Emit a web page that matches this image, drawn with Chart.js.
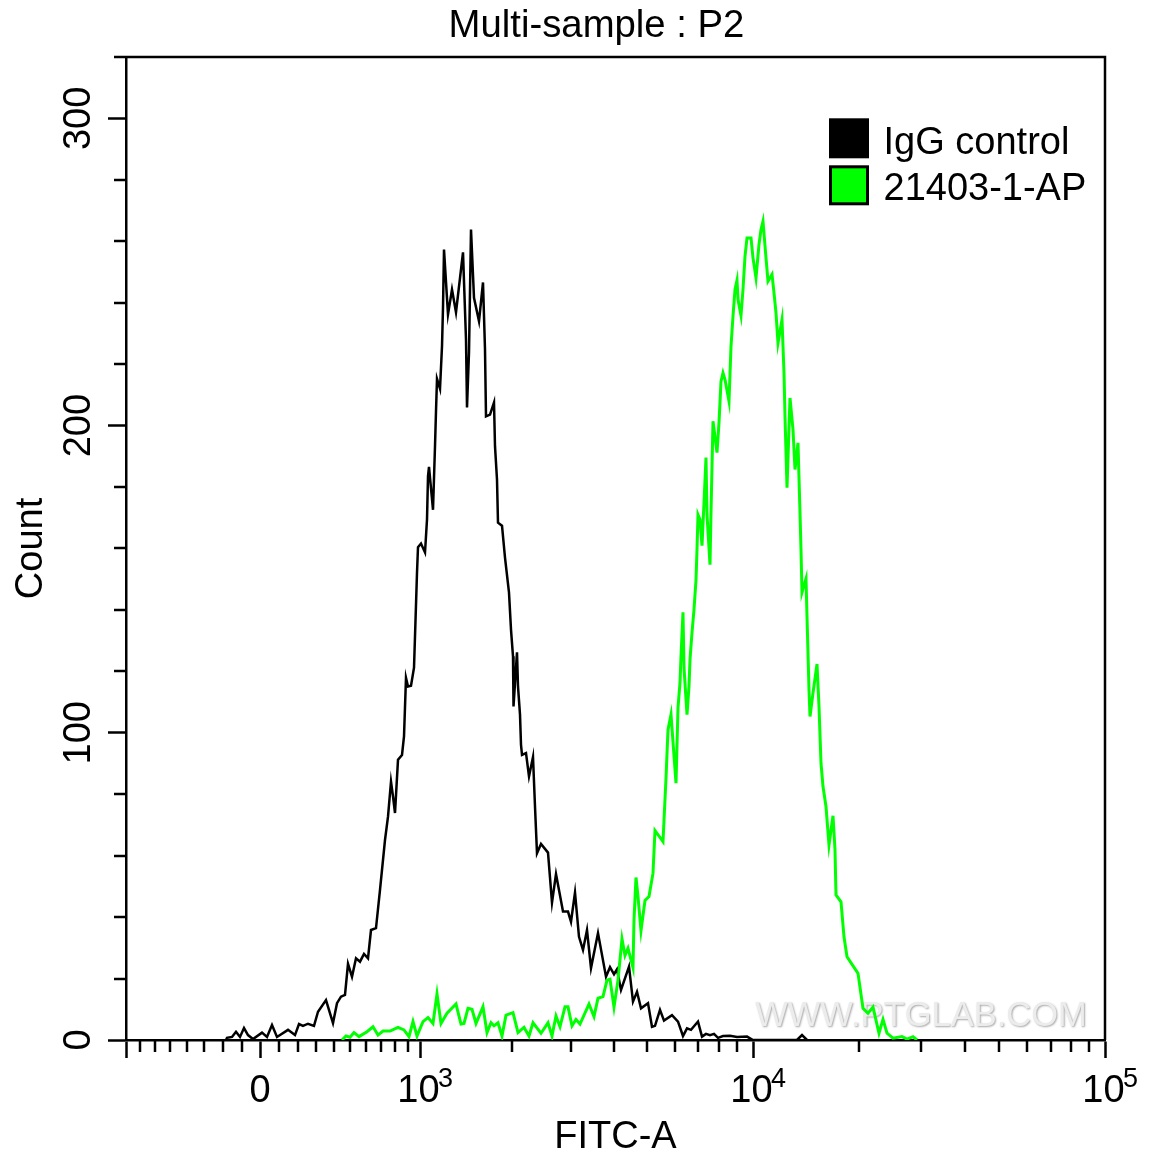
<!DOCTYPE html>
<html>
<head>
<meta charset="utf-8">
<style>html,body{margin:0;padding:0;background:#fff}canvas{display:block}</style>
<script src="https://cdn.jsdelivr.net/npm/chart.js@4/dist/chart.umd.min.js"></script>
</head>
<body>
<canvas id="c" width="1153" height="1156" style="width:1153px;height:1156px"></canvas>
<script>
const FONT = '"Liberation Sans", Arial, sans-serif';
const chartTitle = 'Multi-sample : P2';
const xTitle = 'FITC-A';
const yTitle = 'Count';
const watermark = 'WWW.PTGLAB.COM';

const xMajorTicks = [0, 134, 294, 627, 979];
const xTickLabels = ['', '0', '10\u200A', '10\u200A', '10\u200A'];
const xTickExponents = ['', '', '3', '4', '5'];
const xMinorTicks = [14,29,44,61,78,97,116,153,172,190,208,224,240,255,269,282,386,445,488,521,549,572,593,611,733,795,839,873,901,925,945,963];
const yMajorTicks = [0, 100, 200, 300];
const yMinorTicks = [20,40,60,80,120,140,160,180,220,240,260,280,320];

const iggLabel = 'IgG control';
const iggChannel = [100,101,106,110,114,118,122,127,136,141,146,151,162,169,173,177,182,188,192,200,207,211,215,219,222,226,230,234,238,242,245,250,254,259,262,265,267,269,272,276,278,280,282,285,288,289,290,291,292,295,299,301,302,303,307,309,310,311,314,316,317,318,322,326,330,337,340,341,343,345,348,353,357,359,360,364,368,369,371,372,376,379,383,385,387,387.5,391,392,394,395,396,400,403,407,409,411,415,422,426,430,437,442,445,449,453,457,461,465,472,480,484,488,491,495,503,507,511,515,522,526,529,534,538,546,552,557,561,565,572,576,580,584,588,592,597,604,611,621,627,671,676,681];
const iggCount = [0,0.7,1,2.7,1,3.9,1.6,0.3,2.4,1,4.9,1,3.3,1.6,5.2,4.6,5.3,4.6,9.2,13,5.5,12,14.1,14.7,24.8,20.6,26.6,25.5,28,26.6,35.8,36.4,48.9,65.1,72.7,84.1,79.3,73.9,91.2,92.8,98.8,117.9,115.1,115.3,121.2,131.4,141.7,152.1,160.4,161.6,158.7,169.4,183.5,186.6,172.6,193.3,204.7,215.2,212,225.8,238.4,257.3,236.2,244.3,236.9,256.4,228,205.9,223.8,263.8,241.6,234,246.6,224.8,203,203.6,207.5,193.3,182.4,168.4,167.4,157,145.6,133.6,124.9,108.6,126.2,115.1,105.9,96.1,92.8,93.4,85.8,92.1,76,60.8,63.8,61,44.7,54,41.8,41.8,38.5,48,33.6,29.3,35.8,23.4,34.8,20.6,23.7,21.4,23,16.3,23.9,12.5,15.7,10.3,12,4.3,4.6,9.8,6.3,8.1,6,1.3,3.8,3.3,6,1.1,2,1.6,2,0.7,1.3,1.4,1,1.1,0,0,1.6,0];

const abLabel = '21403-1-AP';
const abChannel = [216,220,224,228,233,241,247,252,257,264,272,278,283,287,291,297,302,307,311,315,321,330,335,338,342,346,350,357,361,365,368,372,376,380,387,392,398,403,407,415,422,426,430,434,439,442,446,450,454,463,468,472,477,481,484,488,492,496,499,502,507,508,510,512,515,519,523,527,529,537,540,542,545,550,552,554,555,557,558,561,563,564,566,568,570,571,572,574,576,578,580,581,584,585,587,591,593,595,597,599,603,605,607,609,611,612,615,617,619,621,625,627,630,633,635,637,640,642,646,648,650,652,656,658,659,661,664,667,669,672,674,675,676,680,681,682,683,684,687,691,693,695,697,700,703,707,709,710,715,718,721,732,737,742,747,753,757,761,767,776,781,787,791];
const abCount = [0,1.3,0.9,2.4,1.1,2.7,4.3,1.6,2.9,2.9,4.1,3.3,1.1,6,1.3,6,7.3,5.4,15,5.4,8.7,11.7,5.2,5.4,10.3,10,5.4,10.8,2.4,5.6,4.6,5.6,1.3,8.1,8.9,2.4,4.1,1.3,5.6,2.2,5.6,1.3,7.8,4.3,10.8,10.8,4.6,6.7,5.2,11.7,7.6,13.6,14.1,19.5,19.8,10.7,19.5,32.9,27.5,29.9,23.6,39.1,52.9,46.7,35.6,45.4,46.7,54.3,68.2,64.6,85.2,101,105.9,83.6,108.1,116.3,124.9,139.2,121.2,105.9,115.1,123.8,132.6,140.1,149.8,159.6,171,169.4,160.9,174.9,189.6,171,154.7,171.6,201.4,191.2,201,214.4,217.2,215,207.9,225.8,235.6,244.3,247.3,241,235.8,244.3,255.1,261.1,261.1,254.6,248.1,259,263.8,266.5,254.6,247,249.2,243.2,236.7,226.9,234.5,217.2,203,179.8,209,198.7,185.7,194.4,171.6,159.6,145.7,150.2,137.9,126,114,105.3,112.9,122.4,108.6,90.1,82.5,76,63.5,73,61.9,47.2,45,33.6,27.1,21.7,10.3,8.7,10.7,2.2,6.7,2.2,0.6,1.1,0.3,1.1,0];

const toPoints = (xs, ys) => xs.map((x, i) => ({x, y: ys[i]}));
const RULE = 2.5;

const furniture = {
  id: 'furniture',
  afterLayout(chart) {
    const t = chart.titleBlock;
    t.left = 40; t.right = 1153;
    const l = chart.legend;
    l.left = 819.5; l.top = 116.8;
  },
  beforeDatasetsDraw(chart) {
    const ctx = chart.ctx;
    ctx.save();
    ctx.font = '34.5px ' + FONT;
    ctx.textAlign = 'center';
    ctx.textBaseline = 'middle';
    ctx.shadowColor = '#a8a8a8';
    ctx.shadowBlur = 2;
    ctx.shadowOffsetX = 1;
    ctx.shadowOffsetY = 1;
    ctx.fillStyle = '#ececec';
    const x = chart.scales.x, y = chart.scales.y;
    ctx.fillText(watermark, x.getPixelForValue(795), y.getPixelForValue(7.5));
    ctx.restore();
  },
  afterDraw(chart) {
    const ctx = chart.ctx, a = chart.chartArea;
    const x = chart.scales.x, y = chart.scales.y;
    ctx.save();
    ctx.strokeStyle = '#000';
    ctx.lineWidth = RULE;
    ctx.beginPath();
    ctx.moveTo(a.left - 1, a.top);
    ctx.lineTo(a.right, a.top);
    ctx.lineTo(a.right, a.bottom);
    xMinorTicks.forEach(v => {
      const p = Math.round(x.getPixelForValue(v));
      ctx.moveTo(p, a.bottom);
      ctx.lineTo(p, a.bottom + 12);
    });
    yMinorTicks.forEach(v => {
      const p = Math.round(y.getPixelForValue(v));
      ctx.moveTo(a.left, p);
      ctx.lineTo(a.left - 12, p);
    });
    ctx.stroke();
    ctx.fillStyle = '#000';
    ctx.font = '27px ' + FONT;
    ctx.textAlign = 'left';
    ctx.textBaseline = 'alphabetic';
    xMajorTicks.forEach((v, i) => {
      if (xTickExponents[i]) ctx.fillText(xTickExponents[i], x.getPixelForValue(v) + 18, a.bottom + 47);
    });
    // legend swatches, coloured from the datasets
    ctx.lineWidth = 3;
    chart.data.datasets.forEach((d, i) => {
      const top = 119.8 + i * 47;
      ctx.fillStyle = d.backgroundColor;
      ctx.fillRect(830.5, top, 37, 37);
      ctx.strokeRect(830.5, top, 37, 37);
    });
    ctx.restore();
  }
};

new Chart(document.getElementById('c'), {
  type: 'line',
  plugins: [furniture],
  data: {
    datasets: [
      {label: iggLabel, data: toPoints(iggChannel, iggCount), borderColor: '#000000', backgroundColor: '#000000', borderWidth: 2.5, pointRadius: 0, tension: 0, order: 2},
      {label: abLabel, data: toPoints(abChannel, abCount), borderColor: '#00ff00', backgroundColor: '#00ff00', borderWidth: 3, pointRadius: 0, tension: 0, order: 1}
    ]
  },
  options: {
    responsive: false,
    animation: false,
    devicePixelRatio: 1,
    parsing: false,
    normalized: true,
    layout: {padding: {top: 0, left: 0, right: 48, bottom: 0}},
    plugins: {
      tooltip: {enabled: false},
      title: {
        display: true, text: chartTitle, color: '#000',
        font: {family: FONT, size: 38.3, weight: 'normal'},
        padding: {top: 3, bottom: 8.0}
      },
      legend: {
        display: true,
        position: 'chartArea',
        align: 'start',
        labels: {
          boxWidth: 37, boxHeight: 37, padding: 8, color: '#000',
          font: {family: FONT, size: 38},
          generateLabels(chart) {
            return chart.data.datasets.map((d, i) => ({
              text: d.label, fillStyle: 'rgba(0,0,0,0)', strokeStyle: 'rgba(0,0,0,0)',
              lineWidth: 0, hidden: false, datasetIndex: i, fontColor: '#000'
            }));
          }
        }
      }
    },
    scales: {
      x: {
        type: 'linear', min: 0, max: 979,
        afterBuildTicks(s) { s.ticks = xMajorTicks.map(v => ({value: v})); },
        afterFit(s) { s.height = 116; s.paddingLeft = s.paddingRight = s.paddingTop = s.paddingBottom = 0; },
        grid: {display: true, drawOnChartArea: false, drawTicks: true, tickLength: 18, tickWidth: RULE, tickColor: '#000'},
        border: {display: true, color: '#000', width: RULE},
        ticks: {
          autoSkip: false, maxRotation: 0, minRotation: 0, padding: 11, color: '#000',
          font: {family: FONT, size: 38},
          callback: (v, i) => xTickLabels[i]
        },
        title: {display: true, text: xTitle, color: '#000', font: {family: FONT, size: 38}, padding: {top: 0, bottom: -4.8}}
      },
      y: {
        type: 'linear', min: 0, max: 320,
        afterBuildTicks(s) { s.ticks = yMajorTicks.map(v => ({value: v})); },
        afterFit(s) { s.width = 126; s.paddingLeft = s.paddingRight = s.paddingTop = s.paddingBottom = 0; },
        grid: {display: true, drawOnChartArea: false, drawTicks: true, tickLength: 18, tickWidth: RULE, tickColor: '#000'},
        border: {display: true, color: '#000', width: RULE},
        ticks: {
          autoSkip: false, minRotation: 90, maxRotation: 90, crossAlign: 'center', padding: -3, color: '#000',
          font: {family: FONT, size: 38},
          callback: v => String(v)
        },
        title: {display: true, text: yTitle, color: '#000', font: {family: FONT, size: 38}, padding: {top: 9.2, bottom: 0}}
      }
    }
  }
});
</script>
</body>
</html>
